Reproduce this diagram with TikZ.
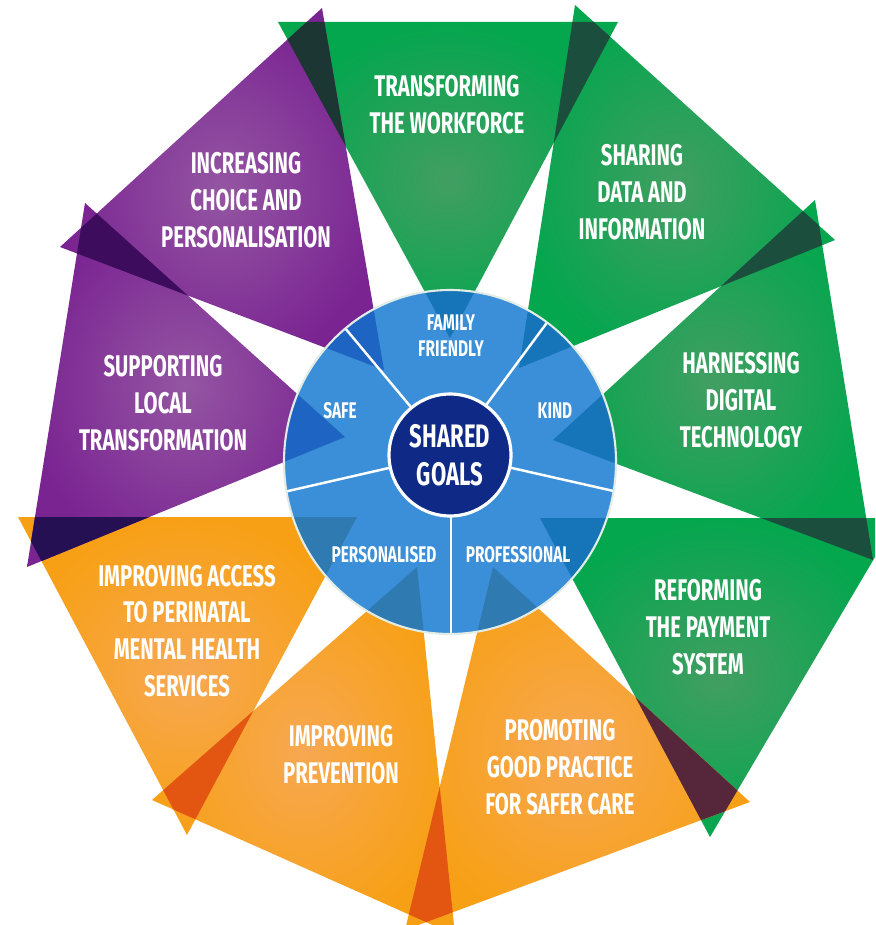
\documentclass[tikz,border=0pt]{standalone}
\usepackage{fontspec}
\setmainfont{Fira Sans}[FakeStretch=0.68]
\usetikzlibrary{calc}

\definecolor{grnA}{RGB}{4,166,78}
\definecolor{grnB}{RGB}{66,158,98}
\definecolor{purA}{RGB}{122,36,146}
\definecolor{purB}{RGB}{148,86,162}
\definecolor{orgA}{RGB}{247,160,22}
\definecolor{orgB}{RGB}{247,168,82}
\definecolor{grnDark}{RGB}{28,78,62}
\definecolor{tealDark}{RGB}{28,54,52}
\definecolor{purDark}{RGB}{62,12,92}
\definecolor{navyDark}{RGB}{38,16,84}
\definecolor{orgDark}{RGB}{226,86,18}
\definecolor{maroonDark}{RGB}{86,38,58}
\definecolor{ringBlue}{RGB}{58,143,216}
\definecolor{tipGrn}{RGB}{22,116,184}
\definecolor{tipPur}{RGB}{30,100,194}
\definecolor{tipOrg}{RGB}{48,122,178}
\definecolor{hubNavy}{RGB}{14,42,134}
\definecolor{rimCream}{RGB}{226,236,230}

\def\tri#1{(t#1a) -- (t#1b) -- (t#1c) -- cycle}
\def\overlap(#1,#2)[#3]{\begin{scope}\clip \tri{#1};\fill[#3] \tri{#2};\end{scope}}

\begin{document}
\begin{tikzpicture}[x=0.02cm, y=-0.02cm,
    lbl/.style={text=white, font=\bfseries\fontsize{17}{21}\selectfont, align=center, inner sep=0pt},
    ringlbl/.style={text=white, font=\bfseries\fontsize{12.9}{14.7}\selectfont, align=center, inner sep=0pt},
    divider/.style={white, line width=1.4pt}]
    \clip (0,0) rectangle (875,925);

    % corners of the nine triangles (a, b outer; c points inwards)
    \coordinate (t1a) at (278,22);  \coordinate (t1b) at (618,22);  \coordinate (t1c) at (450,338);
    \coordinate (t2a) at (575,5);   \coordinate (t2b) at (835,240); \coordinate (t2c) at (519,368);
    \coordinate (t3a) at (815,200); \coordinate (t3b) at (873,560); \coordinate (t3c) at (553,440);
    \coordinate (t4a) at (898,518); \coordinate (t4b) at (710,837); \coordinate (t4c) at (540,518);
    \coordinate (t5a) at (750,802); \coordinate (t5b) at (405,930); \coordinate (t5c) at (493,567);
    \coordinate (t6a) at (455,935); \coordinate (t6b) at (152,800); \coordinate (t6c) at (417,567);
    \coordinate (t7a) at (187,835); \coordinate (t7b) at (18,517);  \coordinate (t7c) at (357,517);
    \coordinate (t8a) at (27,567);  \coordinate (t8b) at (85,203);  \coordinate (t8c) at (345,437);
    \coordinate (t9a) at (60,247);  \coordinate (t9b) at (322,8);   \coordinate (t9c) at (384,370);

    \shade[inner color=grnB, outer color=grnA] \tri{1};
    \shade[inner color=grnB, outer color=grnA] \tri{2};
    \shade[inner color=grnB, outer color=grnA] \tri{3};
    \shade[inner color=grnB, outer color=grnA] \tri{4};
    \shade[inner color=orgB, outer color=orgA] \tri{5};
    \shade[inner color=orgB, outer color=orgA] \tri{6};
    \shade[inner color=orgB, outer color=orgA] \tri{7};
    \shade[inner color=purB, outer color=purA] \tri{8};
    \shade[inner color=purB, outer color=purA] \tri{9};

    % darker where two triangles cross
    \overlap(1,2)[grnDark]
    \overlap(2,3)[grnDark]
    \overlap(3,4)[grnDark]
    \overlap(4,5)[maroonDark]
    \overlap(5,6)[orgDark]
    \overlap(6,7)[orgDark]
    \overlap(7,8)[navyDark]
    \overlap(8,9)[purDark]
    \overlap(9,1)[tealDark]

    % blue ring
    \coordinate (ring) at (450,462);
    \fill[ringBlue] (ring) ellipse [x radius=166, y radius=172];
    \begin{scope}
        \clip (ring) ellipse [x radius=166, y radius=172];
        \foreach \i in {1,2,3,4} \fill[tipGrn] \tri{\i};
        \foreach \i in {5,6,7} \fill[tipOrg] \tri{\i};
        \foreach \i in {8,9} \fill[tipPur] \tri{\i};
        \draw[divider] (450,454) -- (320,298);
        \draw[divider] (450,454) -- (574,286);
        \draw[divider] (450,454) -- (262,497);
        \draw[divider] (450,454) -- (640,497);
        \draw[divider] (451,454) -- (451,660);
    \end{scope}
    \draw[rimCream, line width=1.2pt] (ring) ellipse [x radius=166, y radius=172];

    \node[circle, fill=hubNavy, draw=white, line width=1.8pt, minimum size=2.44cm, inner sep=0pt,
          text=white, font=\bfseries\fontsize{18.5}{21.5}\selectfont, align=center] (hub) at (450,455) {SHARED\\GOALS};

    \node[ringlbl] (family) at (451,336) {FAMILY\\FRIENDLY};
    \node[ringlbl] (kind) at (555,411) {KIND};
    \node[ringlbl] (professional) at (518,555) {PROFESSIONAL};
    \node[ringlbl] (personalised) at (384,555) {PERSONALISED};
    \node[ringlbl] (safe) at (340,411) {SAFE};

    \node[lbl] (workforce) at (447,105) {TRANSFORMING\\THE WORKFORCE};
    \node[lbl] (sharing) at (642,192) {SHARING\\DATA AND\\INFORMATION};
    \node[lbl] (digital) at (741,400) {HARNESSING\\DIGITAL\\TECHNOLOGY};
    \node[lbl] (payment) at (708,627) {REFORMING\\THE PAYMENT\\SYSTEM};
    \node[lbl] (practice) at (560,767) {PROMOTING\\GOOD PRACTICE\\FOR SAFER CARE};
    \node[lbl] (prevention) at (341,755) {IMPROVING\\PREVENTION};
    \node[lbl] (perinatal) at (187,631) {IMPROVING ACCESS\\TO PERINATAL\\MENTAL HEALTH\\SERVICES};
    \node[lbl] (local) at (163,403) {SUPPORTING\\LOCAL\\TRANSFORMATION};
    \node[lbl] (choice) at (246,200) {INCREASING\\CHOICE AND\\PERSONALISATION};
\end{tikzpicture}
\end{document}
